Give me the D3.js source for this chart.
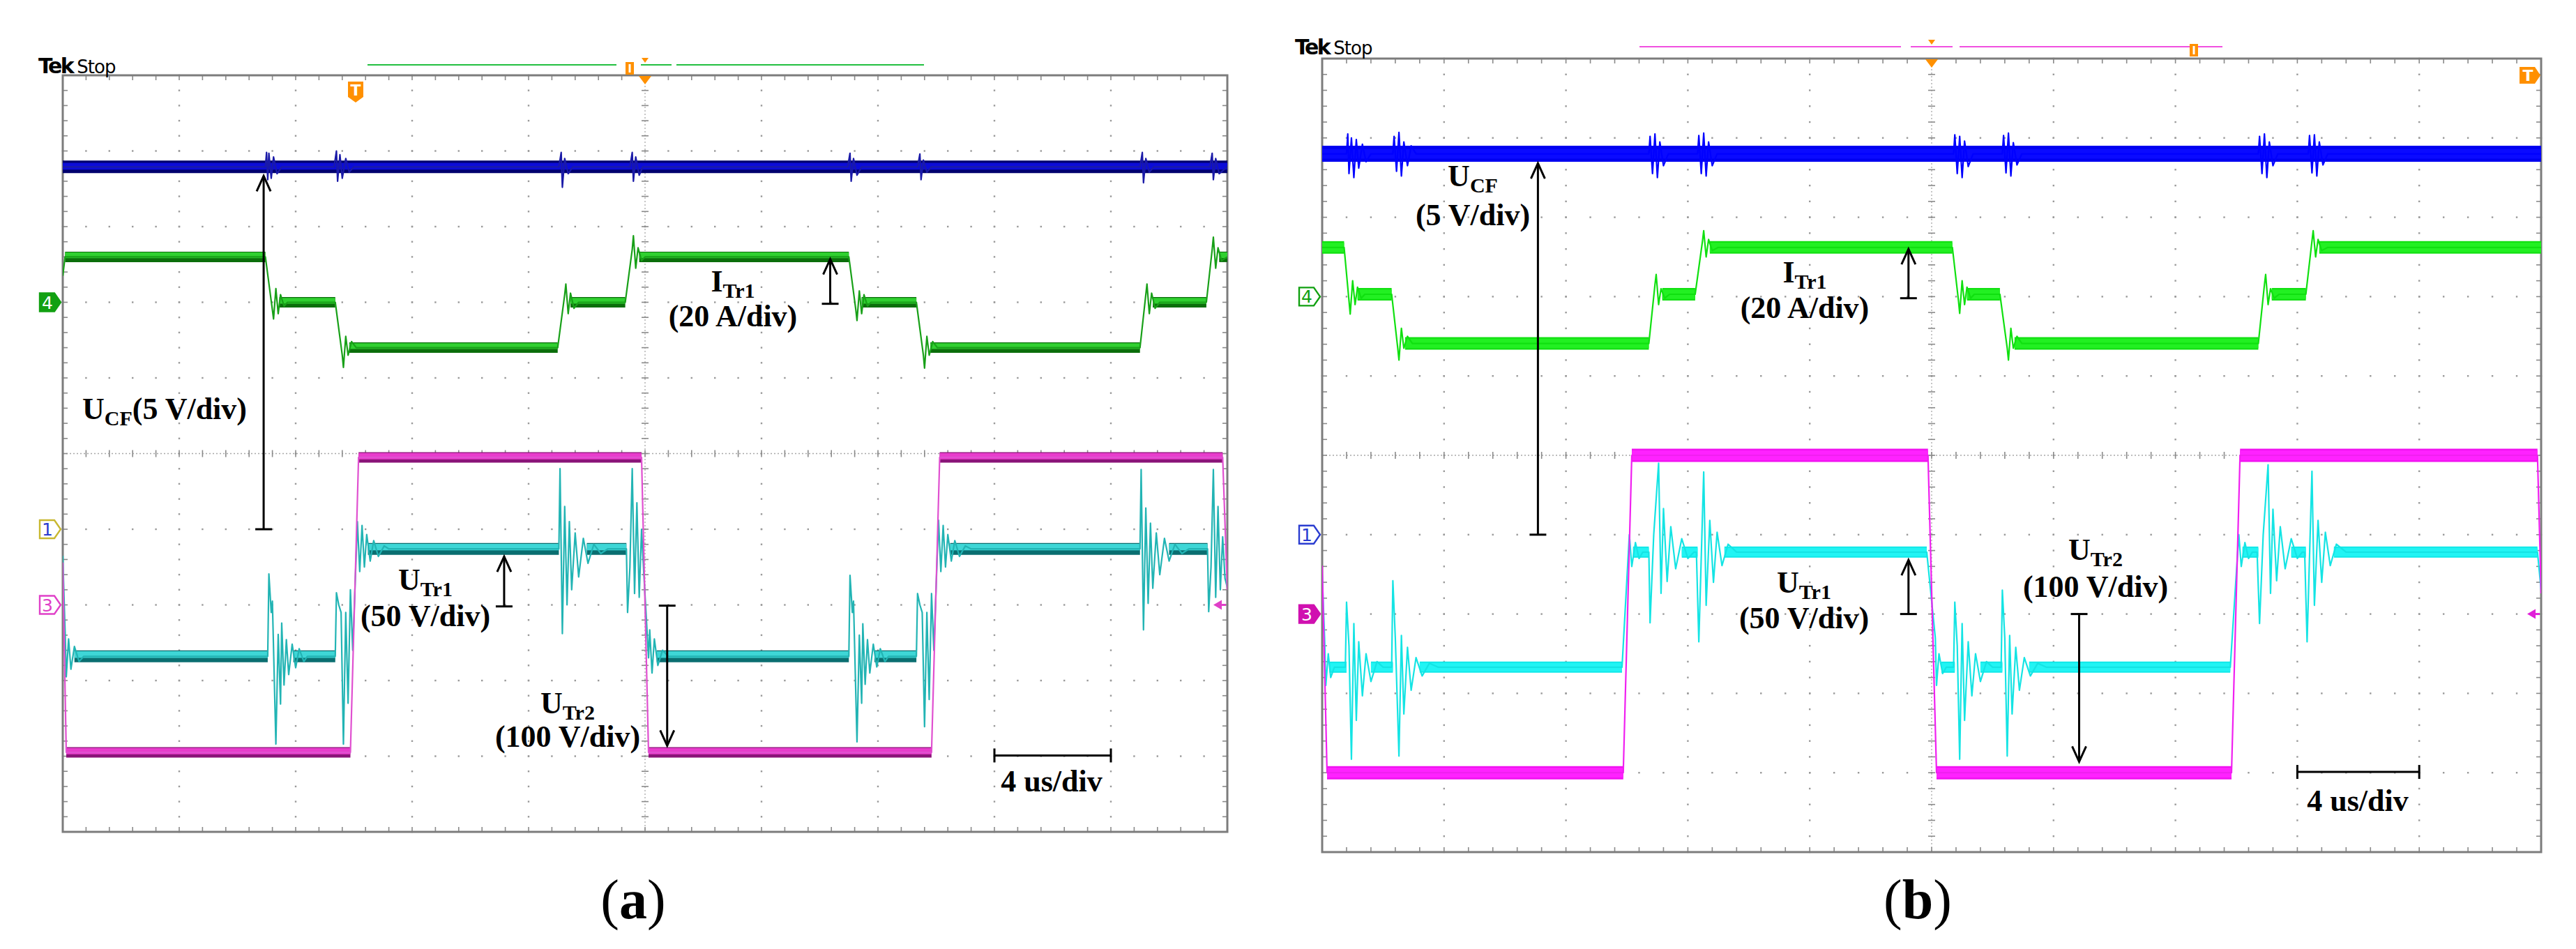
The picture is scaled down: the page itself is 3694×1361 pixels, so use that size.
<!DOCTYPE html>
<html>
<head>
<meta charset="utf-8">
<script src="https://cdn.jsdelivr.net/npm/d3@7"></script>
<style>
  body { margin: 0; background: #fff; }
</style>
</head>
<body>
<svg id="fig" width="3694" height="1361"></svg>
<script>
// scope traces: [time in div (4 us/div), level in div from screen centre]

// ---- panel (a)
const aUcf = [[0,3.79],[1.74,3.79],[1.75,3.98],[1.76,3.62],[1.77,3.97],[1.79,3.64],[1.81,3.92],[1.84,3.7],[1.88,3.79],
  [2.33,3.79],[2.35,4.0],[2.36,3.6],[2.38,3.95],[2.40,3.64],[2.43,3.9],[2.46,3.72],[2.5,3.79],
  [4.26,3.79],[4.28,3.98],[4.29,3.52],[4.31,3.9],[4.34,3.7],[4.38,3.79],
  [4.87,3.79],[4.89,3.98],[4.90,3.6],[4.92,3.92],[4.95,3.68],[4.98,3.79],
  [6.74,3.79],[6.76,3.97],[6.77,3.6],[6.79,3.9],[6.82,3.68],[6.86,3.79],
  [7.34,3.79],[7.36,3.96],[7.37,3.62],[7.39,3.88],[7.42,3.72],[7.46,3.79],
  [9.25,3.79],[9.27,3.98],[9.28,3.58],[9.30,3.9],[9.33,3.72],[9.37,3.79],
  [9.85,3.79],[9.87,3.97],[9.88,3.62],[9.90,3.9],[9.93,3.7],[10,3.79]];
const aUcfBands = [[0,10,3.79]];

const aItr1 = [[0,2.35],[0.02,2.6],[1.74,2.6],[1.80,1.9],[1.81,1.78],[1.83,2.18],[1.85,1.85],[1.87,2.1],[1.90,1.95],[1.93,2.0],
  [2.34,2.0],[2.40,1.3],[2.41,1.14],[2.43,1.55],[2.45,1.3],[2.48,1.48],[2.52,1.4],
  [4.25,1.4],[4.31,2.1],[4.32,2.24],[4.34,1.85],[4.36,2.12],[4.39,1.92],[4.43,2.0],
  [4.83,2.0],[4.89,2.7],[4.90,2.88],[4.92,2.45],[4.94,2.72],[4.97,2.55],[5.0,2.6],
  [6.75,2.6],[6.81,1.9],[6.82,1.76],[6.84,2.15],[6.86,1.85],[6.88,2.1],[6.91,1.95],[6.94,2.0],
  [7.33,2.0],[7.39,1.3],[7.40,1.13],[7.42,1.55],[7.44,1.3],[7.47,1.48],[7.51,1.4],
  [9.25,1.4],[9.30,2.1],[9.31,2.24],[9.33,1.85],[9.35,2.12],[9.38,1.92],[9.42,2.0],
  [9.82,2.0],[9.87,2.7],[9.88,2.86],[9.90,2.45],[9.92,2.72],[9.95,2.55],[10,2.6]];
const aItr1Bands = [[0.02,1.74,2.6],[1.86,2.34,2.0],[2.46,4.25,1.4],[4.36,4.83,2.0],[4.95,6.75,2.6],
  [6.86,7.33,2.0],[7.45,9.25,1.4],[9.36,9.82,2.0],[9.93,10,2.6]];

const aUtr1 = [[0,-1.35],[0.02,-2.35],[0.03,-2.95],[0.05,-2.45],[0.07,-2.85],[0.10,-2.55],[0.14,-2.75],[0.18,-2.68],
  [1.76,-2.68],[1.77,-1.59],[1.79,-2.1],[1.80,-1.95],[1.83,-3.84],[1.85,-2.39],[1.87,-3.31],[1.88,-2.24],[1.90,-3.06],
  [1.92,-2.46],[1.94,-2.92],[1.97,-2.52],[2.0,-2.83],[2.03,-2.58],[2.07,-2.75],[2.1,-2.68],
  [2.34,-2.68],[2.35,-1.84],[2.37,-2.0],[2.39,-2.1],[2.41,-3.84],[2.43,-2.1],[2.45,-3.3],[2.47,-1.8],[2.49,-2.6],
  [2.53,-0.9],[2.55,-1.56],[2.57,-0.95],[2.59,-1.5],[2.61,-1.07],[2.64,-1.42],[2.67,-1.15],[2.71,-1.36],[2.76,-1.22],[2.8,-1.26],
  [4.26,-1.26],[4.27,-0.2],[4.29,-2.38],[4.31,-0.7],[4.33,-2.0],[4.35,-0.9],[4.37,-1.8],[4.40,-1.05],[4.43,-1.63],
  [4.47,-1.12],[4.51,-1.45],[4.56,-1.2],[4.62,-1.32],[4.68,-1.26],
  [4.84,-1.26],[4.85,-2.1],[4.87,-1.5],[4.89,-0.2],[4.91,-1.85],[4.93,-0.65],[4.95,-1.9],[4.97,-1.0],[4.99,-1.6],
  [5.03,-2.7],[5.04,-2.33],[5.06,-2.9],[5.08,-2.45],[5.11,-2.8],[5.15,-2.6],[5.2,-2.68],
  [6.75,-2.68],[6.76,-1.61],[6.78,-2.1],[6.79,-1.95],[6.82,-3.81],[6.84,-2.4],[6.86,-3.3],[6.87,-2.25],[6.89,-3.05],
  [6.91,-2.46],[6.93,-2.9],[6.96,-2.52],[6.99,-2.82],[7.02,-2.58],[7.06,-2.75],[7.09,-2.68],
  [7.33,-2.68],[7.34,-1.85],[7.36,-2.0],[7.38,-2.1],[7.40,-3.61],[7.42,-2.1],[7.44,-3.25],[7.46,-1.85],[7.48,-2.6],
  [7.52,-0.88],[7.54,-1.56],[7.56,-0.95],[7.58,-1.5],[7.60,-1.07],[7.63,-1.42],[7.66,-1.15],[7.70,-1.36],[7.75,-1.22],[7.8,-1.26],
  [9.25,-1.26],[9.26,-0.21],[9.28,-2.33],[9.30,-0.72],[9.32,-1.98],[9.34,-0.92],[9.36,-1.78],[9.39,-1.05],[9.42,-1.6],
  [9.46,-1.12],[9.50,-1.42],[9.55,-1.2],[9.61,-1.32],[9.67,-1.26],
  [9.83,-1.26],[9.84,-2.09],[9.86,-1.5],[9.88,-0.21],[9.90,-1.9],[9.92,-0.7],[9.94,-1.8],[9.96,-1.1],[9.98,-1.65],[10,-1.77]];
const aUtr1Bands = [[0.1,1.76,-2.68],[1.98,2.34,-2.68],[2.62,4.26,-1.26],[4.5,4.84,-1.26],[5.1,6.75,-2.68],
  [6.97,7.33,-2.68],[7.62,9.25,-1.26],[9.5,9.83,-1.26]];

const aUtr2 = [[0,-1.44],[0.03,-3.95],[2.47,-3.95],[2.54,-0.05],[4.97,-0.05],[5.03,-3.95],
  [7.46,-3.95],[7.53,-0.05],[9.96,-0.05],[10,-1.8]];
const aUtr2Bands = [[0.03,2.47,-3.95],[2.54,4.97,-0.05],[5.03,7.46,-3.95],[7.53,9.96,-0.05]];

// ---- panel (b)
const bUcf = [[0,3.8],[0.20,3.8],[0.21,4.05],[0.22,3.55],[0.24,4.0],[0.26,3.5],[0.28,3.98],[0.30,3.62],[0.33,3.92],[0.36,3.7],[0.40,3.8],
  [0.58,3.8],[0.59,4.02],[0.61,3.58],[0.63,4.07],[0.65,3.52],[0.67,3.95],[0.70,3.65],[0.73,3.9],[0.77,3.8],
  [2.68,3.8],[2.69,4.02],[2.71,3.55],[2.73,4.05],[2.75,3.5],[2.77,3.95],[2.80,3.65],[2.84,3.8],
  [3.08,3.8],[3.09,4.03],[3.11,3.55],[3.13,4.06],[3.15,3.52],[3.17,3.95],[3.20,3.65],[3.24,3.8],
  [5.18,3.8],[5.19,4.04],[5.21,3.55],[5.23,4.02],[5.25,3.5],[5.27,3.96],[5.30,3.64],[5.34,3.8],
  [5.58,3.8],[5.59,4.03],[5.61,3.56],[5.63,4.06],[5.65,3.52],[5.67,3.94],[5.70,3.66],[5.74,3.8],
  [7.68,3.8],[7.69,4.02],[7.71,3.55],[7.73,4.05],[7.75,3.5],[7.77,3.95],[7.80,3.65],[7.84,3.8],
  [8.09,3.8],[8.10,4.03],[8.12,3.56],[8.14,4.04],[8.16,3.52],[8.18,3.95],[8.21,3.66],[8.25,3.8],[10,3.8]];
const bUcfBands = [[0,10,3.8]];

const bItr1 = [[0,2.62],[0.18,2.62],[0.22,1.95],[0.23,1.78],[0.25,2.2],[0.27,1.9],[0.29,2.12],[0.32,1.98],[0.35,2.03],
  [0.57,2.03],[0.62,1.35],[0.63,1.2],[0.65,1.6],[0.67,1.35],[0.70,1.5],[0.74,1.41],
  [2.68,1.41],[2.73,2.15],[2.74,2.28],[2.76,1.9],[2.78,2.1],[2.81,1.98],[2.85,2.03],
  [3.06,2.03],[3.12,2.7],[3.13,2.83],[3.15,2.5],[3.17,2.72],[3.2,2.58],[3.25,2.62],
  [5.17,2.62],[5.22,1.95],[5.23,1.79],[5.25,2.2],[5.27,1.9],[5.29,2.12],[5.32,1.98],[5.35,2.03],
  [5.56,2.03],[5.62,1.35],[5.63,1.2],[5.65,1.6],[5.67,1.35],[5.70,1.5],[5.74,1.41],
  [7.68,1.41],[7.73,2.15],[7.74,2.28],[7.76,1.9],[7.78,2.1],[7.81,1.98],[7.85,2.03],
  [8.07,2.03],[8.12,2.7],[8.13,2.83],[8.15,2.5],[8.17,2.72],[8.2,2.58],[8.25,2.62],[10,2.62]];
const bItr1Bands = [[0,0.18,2.62],[0.29,0.57,2.03],[0.68,2.68,1.41],[2.79,3.06,2.03],[3.18,5.17,2.62],
  [5.29,5.56,2.03],[5.68,7.68,1.41],[7.79,8.07,2.03],[8.18,10,2.62]];

const bUtr1 = [[0,-1.5],[0.02,-2.3],[0.03,-2.9],[0.05,-2.5],[0.07,-2.8],[0.1,-2.67],
  [0.19,-2.67],[0.2,-1.85],[0.22,-2.4],[0.24,-3.83],[0.26,-2.12],[0.28,-3.34],[0.30,-2.35],[0.33,-3.03],[0.36,-2.5],[0.40,-2.85],[0.45,-2.6],[0.5,-2.67],
  [0.57,-2.67],[0.58,-1.58],[0.60,-2.3],[0.63,-3.79],[0.65,-2.27],[0.67,-3.26],[0.70,-2.42],[0.73,-2.96],[0.77,-2.55],[0.82,-2.78],[0.88,-2.62],[0.95,-2.67],
  [2.46,-2.67],[2.52,-1.0],[2.54,-1.4],[2.57,-1.1],[2.60,-1.3],[2.63,-1.22],
  [2.68,-1.22],[2.69,-2.11],[2.72,-1.0],[2.76,-0.1],[2.78,-1.74],[2.80,-0.67],[2.83,-1.59],[2.86,-0.9],[2.90,-1.43],[2.95,-1.05],[3.0,-1.3],[3.05,-1.22],
  [3.07,-1.22],[3.09,-2.35],[3.13,-0.21],[3.15,-1.89],[3.18,-0.82],[3.21,-1.6],[3.24,-0.97],[3.28,-1.39],[3.33,-1.12],[3.4,-1.22],
  [4.96,-1.22],[5.03,-2.3],[5.04,-2.9],[5.06,-2.5],[5.09,-2.75],[5.12,-2.67],
  [5.18,-2.67],[5.19,-1.85],[5.21,-2.4],[5.23,-3.83],[5.25,-2.12],[5.27,-3.34],[5.30,-2.35],[5.33,-3.03],[5.36,-2.5],[5.40,-2.85],[5.45,-2.6],[5.5,-2.67],
  [5.57,-2.67],[5.58,-1.7],[5.60,-2.3],[5.62,-3.79],[5.64,-2.27],[5.66,-3.26],[5.69,-2.42],[5.72,-2.96],[5.76,-2.55],[5.81,-2.78],[5.87,-2.62],[5.94,-2.67],
  [7.45,-2.67],[7.52,-1.0],[7.54,-1.4],[7.57,-1.1],[7.60,-1.3],[7.63,-1.22],
  [7.67,-1.22],[7.69,-2.12],[7.72,-1.0],[7.76,-0.12],[7.78,-1.74],[7.80,-0.68],[7.83,-1.58],[7.86,-0.9],[7.90,-1.43],[7.95,-1.05],[8.0,-1.3],[8.04,-1.22],
  [8.06,-1.22],[8.08,-2.35],[8.12,-0.2],[8.14,-1.89],[8.17,-0.82],[8.20,-1.6],[8.23,-0.97],[8.27,-1.39],[8.32,-1.12],[8.4,-1.22],
  [9.97,-1.22],[10,-1.7]];
const bUtr1Bands = [[0.06,0.2,-2.67],[0.4,0.58,-2.67],[0.8,2.46,-2.67],[2.55,2.68,-1.22],[2.95,3.08,-1.22],[3.3,4.96,-1.22],
  [5.08,5.19,-2.67],[5.4,5.58,-2.67],[5.8,7.45,-2.67],[7.55,7.68,-1.22],[7.95,8.07,-1.22],[8.3,9.97,-1.22]];

const bUtr2 = [[0,-1.39],[0.04,-4.0],[2.47,-4.0],[2.54,0],[4.97,0],[5.04,-4.0],[7.46,-4.0],[7.53,0],[9.97,0],[10,-1.74]];
const bUtr2Bands = [[0.04,2.47,-4.0],[2.54,4.97,0],[5.04,7.46,-4.0],[7.53,9.97,0]];

// channel ground markers: [label, level]
const markerLevels = [["4", 2.0], ["1", -1.0], ["3", -2.0]];

// annotation texts
const noteText = [
  { main: "U", sub: "CF", tail: "(5 V/div)" },
  { main: "I", sub: "Tr1" }, { main: "(20 A/div)" },
  { main: "U", sub: "Tr1" }, { main: "(50 V/div)" },
  { main: "U", sub: "Tr2" }, { main: "(100 V/div)" },
  { main: "4 us/div" }
];
const noteTextB = [
  { main: "U", sub: "CF" }, { main: "(5 V/div)" },
  { main: "I", sub: "Tr1" }, { main: "(20 A/div)" },
  { main: "U", sub: "Tr1" }, { main: "(50 V/div)" },
  { main: "U", sub: "Tr2" }, { main: "(100 V/div)" },
  { main: "4 us/div" }
];
// arrows: [time, tail level (bar), head level]
const aArrows = [[1.725, -1.0, 3.67], [6.59, 1.98, 2.57], [3.79, -2.02, -1.36], [5.19, -2.01, -3.86]];
const bArrows = [[1.77, -1.0, 3.68], [4.81, 1.98, 2.60], [4.81, -2.0, -1.32], [6.21, -2.0, -3.86]];
const panelLabels = ["a", "b"];

// ---------------------------------------------------------------
const serif = '"Liberation Serif", "Times New Roman", serif';
const sans = '"DejaVu Sans", Verdana, sans-serif';
const svg = d3.select("#fig");
svg.append("rect").attr("width", 3694).attr("height", 1361).attr("fill", "#fff");

const line = (x, y) => d3.line().x(d => x(d[0])).y(d => y(d[1]));

function drawScope(P) {
  const box = P.box;
  const x = d3.scaleLinear().domain([0, 10]).range([box.x0, box.x1]);
  const y = d3.scaleLinear().domain([-5, 5]).range([box.y1, box.y0]);
  const g = svg.append("g");
  const fine = d3.range(0, 51).map(k => k / 5);

  // dotted graticule
  const dots = g.append("g").attr("fill", "#9a9a9a");
  for (let i = 1; i < 10; i++) {
    if (i === 5) continue;
    fine.forEach(f => {
      dots.append("rect").attr("x", x(i) - 1.2).attr("y", y(f - 5) - 1.2).attr("width", 2.4).attr("height", 2.4);
    });
  }
  for (let j = -4; j <= 4; j++) {
    if (j === 0) continue;
    fine.forEach(f => {
      dots.append("rect").attr("x", x(f) - 1.2).attr("y", y(j) - 1.2).attr("width", 2.4).attr("height", 2.4);
    });
  }
  // centre cross with ticks
  g.append("line").attr("x1", x(5)).attr("x2", x(5)).attr("y1", box.y0).attr("y2", box.y1)
    .attr("stroke", "#a8a8a8").attr("stroke-width", 1.3).attr("stroke-dasharray", "2,3");
  g.append("line").attr("x1", box.x0).attr("x2", box.x1).attr("y1", y(0)).attr("y2", y(0))
    .attr("stroke", "#a8a8a8").attr("stroke-width", 1.3).attr("stroke-dasharray", "2,3");
  const ticks = g.append("g").attr("stroke", "#8a8a8a").attr("stroke-width", 1.6);
  fine.forEach(f => {
    ticks.append("line").attr("x1", x(5) - 5).attr("x2", x(5) + 5).attr("y1", y(f - 5)).attr("y2", y(f - 5));
    ticks.append("line").attr("x1", x(f)).attr("x2", x(f)).attr("y1", y(0) - 5).attr("y2", y(0) + 5);
    ticks.append("line").attr("x1", x(f)).attr("x2", x(f)).attr("y1", box.y0).attr("y2", box.y0 + 7);
    ticks.append("line").attr("x1", x(f)).attr("x2", x(f)).attr("y1", box.y1).attr("y2", box.y1 - 7);
    ticks.append("line").attr("x1", box.x0).attr("x2", box.x0 + 7).attr("y1", y(f - 5)).attr("y2", y(f - 5));
    ticks.append("line").attr("x1", box.x1).attr("x2", box.x1 - 7).attr("y1", y(f - 5)).attr("y2", y(f - 5));
  });
  g.append("rect").attr("x", box.x0).attr("y", box.y0).attr("width", box.x1 - box.x0).attr("height", box.y1 - box.y0)
    .attr("fill", "none").attr("stroke", "#7c7c7c").attr("stroke-width", 3);

  // traces
  const clipId = "clip" + P.name;
  svg.append("clipPath").attr("id", clipId).append("rect")
    .attr("x", box.x0).attr("y", box.y0).attr("width", box.x1 - box.x0).attr("height", box.y1 - box.y0);
  const tg = svg.append("g").attr("clip-path", `url(#${clipId})`);
  P.traces.forEach(tr => {
    tr.bands.forEach(b => {
      tg.append("line").attr("x1", x(b[0])).attr("x2", x(b[1])).attr("y1", y(b[2])).attr("y2", y(b[2]))
        .attr("stroke", tr.dark).attr("stroke-width", tr.w);
      tg.append("line").attr("x1", x(b[0])).attr("x2", x(b[1]))
        .attr("y1", y(b[2]) - tr.w * tr.shift).attr("y2", y(b[2]) - tr.w * tr.shift)
        .attr("stroke", tr.bright).attr("stroke-width", tr.w * tr.inner);
    });
    tg.append("path").datum(tr.wave).attr("d", line(x, y))
      .attr("fill", "none").attr("stroke", tr.thin).attr("stroke-width", 2.2).attr("stroke-linejoin", "round");
  });

  // arrows
  const ag = svg.append("g").attr("stroke", "#000").attr("stroke-width", 3).attr("fill", "none");
  P.arrows.forEach(a => {
    const xx = x(a[0]), y0 = y(a[1]), y1 = y(a[2]);
    const dir = y1 < y0 ? 1 : -1;
    ag.append("line").attr("x1", xx).attr("x2", xx).attr("y1", y0).attr("y2", y1);
    ag.append("line").attr("x1", xx - 12).attr("x2", xx + 12).attr("y1", y0).attr("y2", y0);
    ag.append("path").attr("d", `M${xx - 10},${y1 + dir * 22}L${xx},${y1}L${xx + 10},${y1 + dir * 22}`);
  });

  // time scale bar
  const sb = P.scaleBar;
  const sy = y(sb.v);
  ag.append("line").attr("x1", x(sb.t0)).attr("x2", x(sb.t1)).attr("y1", sy).attr("y2", sy);
  [sb.t0, sb.t1].forEach(t => ag.append("line").attr("x1", x(t)).attr("x2", x(t)).attr("y1", sy - 10).attr("y2", sy + 10));

  // annotation text
  P.notes.forEach((n, i) => {
    const pos = P.notePos[i];
    const t = svg.append("text").attr("x", pos[0]).attr("y", pos[1]).style("font-family", serif)
      .attr("text-anchor", pos[2] || "middle").attr("font-weight", "bold").attr("font-size", 44);
    t.append("tspan").text(n.main);
    if (n.sub) t.append("tspan").attr("font-size", 30).attr("dy", 9).text(n.sub);
    if (n.tail) t.append("tspan").attr("dy", -9).text(n.tail);
  });

  // channel markers on the left
  P.markers.forEach(m => {
    const level = markerLevels.find(d => d[0] === m.ch)[1];
    const cy = y(level), xr = box.x0 - 3, xl = xr - 30;
    svg.append("path")
      .attr("d", `M${xl},${cy - 13}L${xr - 9},${cy - 13}L${xr},${cy}L${xr - 9},${cy + 13}L${xl},${cy + 13}Z`)
      .attr("fill", m.fill ? m.color : "#fff").attr("stroke", m.edge || m.color).attr("stroke-width", 2.4);
    svg.append("text").attr("x", xl + 11).attr("y", cy + 9).attr("text-anchor", "middle")
      .style("font-family", sans).attr("font-size", 25)
      .attr("fill", m.fill ? "#fff" : m.color).text(m.ch);
  });
  // trigger level arrow at right edge
  const ty = y(-2.0);
  svg.append("path").attr("d", `M${box.x1 - 20},${ty}L${box.x1 - 8},${ty - 7}L${box.x1 - 8},${ty + 7}Z`).attr("fill", P.trigColor);
  svg.append("line").attr("x1", box.x1 - 9).attr("x2", box.x1 - 2).attr("y1", ty).attr("y2", ty)
    .attr("stroke", P.trigColor).attr("stroke-width", 3);

  // header
  const hd = svg.append("text").attr("x", P.tek[0]).attr("y", P.tek[1]).style("font-family", sans);
  hd.append("tspan").attr("font-size", 30).attr("font-weight", "bold").attr("letter-spacing", -2.5).text("Tek");
  hd.append("tspan").attr("font-size", 26).attr("dx", 6).attr("letter-spacing", -1).text("Stop");
  P.recordLine.forEach(s => svg.append("line").attr("x1", s[0]).attr("x2", s[1]).attr("y1", P.recordY).attr("y2", P.recordY)
    .attr("stroke", P.recordColor).attr("stroke-width", 2.2));
  const orange = "#ff9000";
  svg.append("rect").attr("x", P.viewMark - 6).attr("y", P.recordY - 4).attr("width", 12).attr("height", 18).attr("fill", orange);
  svg.append("rect").attr("x", P.viewMark - 1.5).attr("y", P.recordY - 1).attr("width", 3).attr("height", 12).attr("fill", "#fff");
  const cx = x(5);
  svg.append("path").attr("d", `M${cx - 5},${P.recordY - 10}L${cx + 5},${P.recordY - 10}L${cx},${P.recordY - 3}Z`).attr("fill", orange);
  svg.append("path").attr("d", `M${cx - 9},${box.y0 + 1}L${cx + 9},${box.y0 + 1}L${cx},${box.y0 + 13}Z`).attr("fill", orange);
  // trigger position marker
  const tm = P.trigMark;
  const tp = tm.dir === "down"
    ? `M${tm.x - 11},${tm.y - 15}L${tm.x + 11},${tm.y - 15}L${tm.x + 11},${tm.y + 7}L${tm.x},${tm.y + 15}L${tm.x - 11},${tm.y + 7}Z`
    : `M${tm.x - 15},${tm.y - 12}L${tm.x + 7},${tm.y - 12}L${tm.x + 15},${tm.y}L${tm.x + 7},${tm.y + 12}L${tm.x - 15},${tm.y + 12}Z`;
  svg.append("path").attr("d", tp).attr("fill", orange);
  svg.append("text").attr("x", tm.dir === "down" ? tm.x : tm.x - 3).attr("y", tm.y + (tm.dir === "down" ? 5 : 8))
    .attr("text-anchor", "middle").style("font-family", sans).attr("font-weight", "bold")
    .attr("font-size", 22).attr("fill", "#fff").text("T");

  // panel label (bold letter in regular parentheses)
  const lb = svg.append("text").attr("x", P.label[0]).attr("y", P.label[1]).attr("text-anchor", "middle")
    .style("font-family", serif).attr("font-size", 80);
  lb.append("tspan").text("(");
  lb.append("tspan").attr("font-weight", "bold").text(P.name);
  lb.append("tspan").text(")");
}

drawScope({
  name: panelLabels[0],
  box: { x0: 90, x1: 1760, y0: 108, y1: 1193 },
  traces: [
    { wave: aUcf, bands: aUcfBands, w: 18, dark: "#00006e", bright: "#0c0cd8", thin: "#1a1aa8", shift: 0.05, inner: 0.55 },
    { wave: aItr1, bands: aItr1Bands, w: 15, dark: "#0b6e0b", bright: "#30d030", thin: "#18a018", shift: 0.15, inner: 0.55 },
    { wave: aUtr1, bands: aUtr1Bands, w: 17, dark: "#0a6e70", bright: "#3ed6d6", thin: "#22b4b4", shift: 0.15, inner: 0.55 },
    { wave: aUtr2, bands: aUtr2Bands, w: 15, dark: "#8a1478", bright: "#e83ccc", thin: "#e050d0", shift: 0.12, inner: 0.6 }
  ],
  arrows: aArrows,
  scaleBar: { t0: 8, t1: 9, v: -3.99 },
  notes: noteText,
  notePos: [[118, 601, "start"], [1051, 418], [1051, 468], [610, 846], [610, 898], [814, 1023], [814, 1071], [1508, 1135]],
  markers: [{ ch: "4", color: "#12a012", fill: true }, { ch: "1", color: "#2a3cd0", edge: "#c8b830" }, { ch: "3", color: "#e040c8" }],
  trigColor: "#e040c8",
  tek: [55, 105],
  recordLine: [[527, 884], [919, 963], [970, 1325]],
  recordY: 93,
  recordColor: "#22c040",
  viewMark: 903,
  trigMark: { x: 510, y: 132, dir: "down" },
  label: [908, 1317]
});

drawScope({
  name: panelLabels[1],
  box: { x0: 1896, x1: 3644, y0: 84, y1: 1222 },
  traces: [
    { wave: bUcf, bands: bUcfBands, w: 23, dark: "#0000f0", bright: "#0a0aff", thin: "#0000ff", shift: 0, inner: 0.6 },
    { wave: bItr1, bands: bItr1Bands, w: 18, dark: "#12e012", bright: "#22f022", thin: "#10e010", shift: 0, inner: 0.75 },
    { wave: bUtr1, bands: bUtr1Bands, w: 16, dark: "#10e8e8", bright: "#22f4f4", thin: "#14e4e4", shift: 0, inner: 0.75 },
    { wave: bUtr2, bands: bUtr2Bands, w: 19, dark: "#f010f0", bright: "#ff22ff", thin: "#f020f0", shift: 0, inner: 0.75 }
  ],
  arrows: bArrows,
  scaleBar: { t0: 8, t1: 9, v: -3.99 },
  notes: noteTextB,
  notePos: [[2112, 267], [2112, 323], [2588, 405], [2588, 456], [2587, 850], [2587, 901], [3005, 803], [3005, 856], [3381, 1163]],
  markers: [{ ch: "4", color: "#10a010" }, { ch: "1", color: "#2a3cd0" }, { ch: "3", color: "#d010b0", fill: true }],
  trigColor: "#e020d8",
  tek: [1857, 78],
  recordLine: [[2351, 2726], [2740, 2800], [2810, 3187]],
  recordY: 67,
  recordColor: "#f050e0",
  viewMark: 3146,
  trigMark: { x: 3628, y: 108, dir: "right" },
  label: [2750, 1317]
});
</script>
</body>
</html>
